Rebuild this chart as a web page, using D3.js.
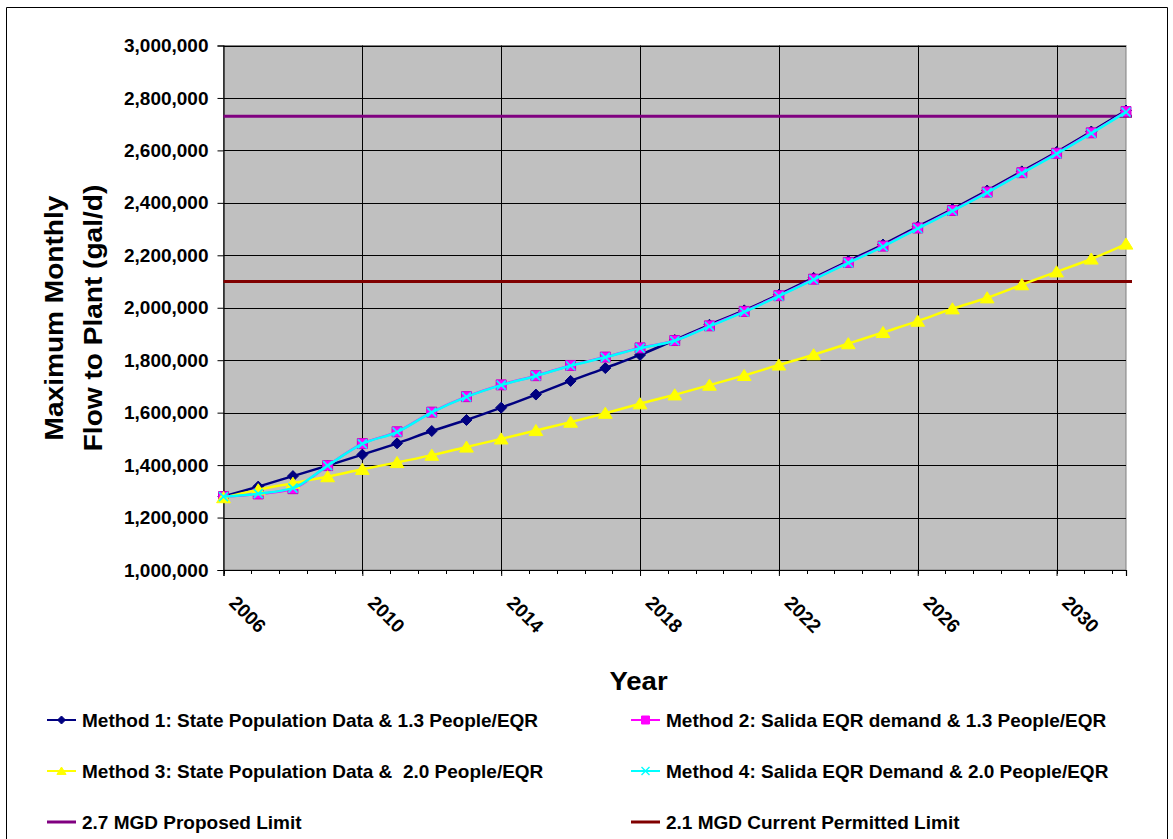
<!DOCTYPE html>
<html>
<head>
<meta charset="utf-8">
<script src="https://cdn.jsdelivr.net/npm/d3@7"></script>
<style>
  html, body { margin: 0; padding: 0; background: #ffffff; }
  svg { display: block; font-family: "Liberation Sans", Arial, sans-serif; font-weight: bold; }
  text { white-space: pre; }
</style>
</head>
<body>
<svg id="chart" width="1173" height="839"></svg>
<script>
// ---- data ----
const years = [2006,2007,2008,2009,2010,2011,2012,2013,2014,2015,2016,2017,2018,2019,2020,2021,2022,2023,2024,2025,2026,2027,2028,2029,2030,2031,2032];

const method1 = [1280000,1318000,1358000,1398000,1440000,1483000,1530000,1572000,1619000,1669000,1721000,1770000,1820000,1877000,1935000,1990000,2050000,2114000,2178000,2241000,2309000,2376000,2447000,2520000,2594000,2672000,2752000];
const method2 = [1280000,1290000,1310000,1398000,1482000,1527000,1602000,1661000,1706000,1741000,1780000,1812000,1847000,1875000,1931000,1986000,2046000,2109000,2173000,2235000,2304000,2371000,2441000,2515000,2589000,2667000,2748000];
const method3 = [1276000,1306000,1331000,1356000,1384000,1410000,1438000,1469000,1500000,1532000,1564000,1598000,1634000,1668000,1705000,1742000,1782000,1821000,1863000,1906000,1949000,1996000,2038000,2088000,2137000,2186000,2243000];
const method4 = [1280000,1291000,1312000,1398000,1481000,1526000,1601000,1660000,1705000,1740000,1779000,1811000,1846000,1874000,1929000,1984000,2044000,2107000,2171000,2233000,2302000,2369000,2439000,2513000,2587000,2665000,2746000];

const proposedLimit = 2730000;
const permittedLimit = 2100000;

const yTicks = [1000000,1200000,1400000,1600000,1800000,2000000,2200000,2400000,2600000,2800000,3000000];
const xTicks = [2006,2010,2014,2018,2022,2026,2030];

const seriesNames = [
  "Method 1: State Population Data & 1.3 People/EQR",
  "Method 2: Salida EQR demand & 1.3 People/EQR",
  "Method 3: State Population Data &  2.0 People/EQR",
  "Method 4: Salida EQR Demand & 2.0 People/EQR",
  "2.7 MGD Proposed Limit",
  "2.1 MGD Current Permitted Limit"
];

const yTitleLines = ["Maximum Monthly", "Flow to Plant (gal/d)"];
const xTitle = "Year";

// ---- layout ----
const svg = d3.select("#chart");
const plot = { left: 223.5, right: 1126, top: 45.5, bottom: 570 };

const x = d3.scaleLinear().domain([2006, 2032]).range([plot.left, plot.right]);
const y = d3.scaleLinear().domain([1000000, 3000000]).range([plot.bottom, plot.top]);

// outer chart border
svg.append("path")
  .attr("d", `M6.5,839 L6.5,7.5 L1167.5,7.5 L1167.5,839`)
  .attr("fill", "none").attr("stroke", "#000").attr("stroke-width", 1);

// plot background
svg.append("rect")
  .attr("x", plot.left).attr("y", plot.top)
  .attr("width", plot.right - plot.left).attr("height", plot.bottom - plot.top)
  .attr("fill", "#C0C0C0").attr("stroke", "#808080").attr("stroke-width", 1);

// gridlines
const grid = svg.append("g");
grid.selectAll("line.h").data(yTicks.filter(v => v > 1000000)).enter().append("line")
  .attr("x1", plot.left).attr("x2", plot.right)
  .attr("y1", d => Math.round(y(d)) + 0.5).attr("y2", d => Math.round(y(d)) + 0.5)
  .attr("stroke", "#000").attr("stroke-width", 1);
grid.selectAll("line.v").data(xTicks.filter(v => v > 2006)).enter().append("line")
  .attr("y1", plot.top).attr("y2", plot.bottom)
  .attr("x1", d => Math.round(x(d)) + 0.5).attr("x2", d => Math.round(x(d)) + 0.5)
  .attr("stroke", "#000").attr("stroke-width", 1);

// y axis
const yAxis = d3.axisLeft(y).tickValues(yTicks).tickSize(6).tickPadding(9)
  .tickFormat(d3.format(","));
const gy = svg.append("g").attr("transform", `translate(${plot.left},0)`).call(yAxis);
gy.select(".domain").attr("stroke", "#000").attr("stroke-width", 1.2);
gy.selectAll(".tick line").attr("stroke", "#000");
gy.selectAll(".tick text")
  .attr("font-family", '"Liberation Sans", Arial, sans-serif')
  .attr("font-weight", "bold").attr("font-size", "19px").attr("fill", "#000");

// x axis (minor ticks every 0.8 year)
const minorTicks = d3.range(0, 33).map(i => 2006 + i * 0.8).filter(v => v <= 2032.001);
svg.append("g").selectAll("line").data(minorTicks).enter().append("line")
  .attr("x1", d => Math.round(x(d)) + 0.5).attr("x2", d => Math.round(x(d)) + 0.5)
  .attr("y1", plot.bottom).attr("y2", plot.bottom + 4)
  .attr("stroke", "#000").attr("stroke-width", 1);
const xAxis = d3.axisBottom(x).tickValues(xTicks).tickSize(6).tickFormat(d3.format("d"));
const gx = svg.append("g").attr("transform", `translate(0,${plot.bottom})`).call(xAxis);
gx.select(".domain").attr("stroke", "#000").attr("stroke-width", 1.2);
gx.selectAll(".tick line").attr("stroke", "#000");
gx.selectAll(".tick text")
  .attr("font-family", '"Liberation Sans", Arial, sans-serif')
  .attr("font-weight", "bold").attr("font-size", "19px").attr("fill", "#000")
  .attr("text-anchor", "start").attr("dy", 0).attr("y", 0)
  .attr("transform", "translate(4,34) rotate(45)");

// limit lines
const limits = [
  { v: proposedLimit, color: "#800080" },
  { v: permittedLimit, color: "#800000" }
];
svg.append("g").selectAll("line").data(limits).enter().append("line")
  .attr("x1", x(2006)).attr("x2", x(2032) + 6)
  .attr("y1", d => y(d.v)).attr("y2", d => y(d.v))
  .attr("stroke", d => d.color).attr("stroke-width", 3);

// series
const series = [
  { values: method1, color: "#000080", width: 2.5, marker: "diamond", fill: "#000080" },
  { values: method2, color: "#FF00FF", width: 2.5, marker: "square", fill: "#FF00FF" },
  { values: method3, color: "#FFFF00", width: 2.5, marker: "triangle", fill: "#FFFF00" },
  { values: method4, color: "#00FFFF", width: 2.5, marker: "x", fill: "none" }
];

function markerPath(type, s) {
  if (type === "diamond") return `M0,${-s} L${s},0 L0,${s} L${-s},0 Z`;
  if (type === "square") return `M${-s},${-s} L${s},${-s} L${s},${s} L${-s},${s} Z`;
  if (type === "triangle") return `M0,${-s} L${s * 1.15},${s * 0.85} L${-s * 1.15},${s * 0.85} Z`;
  return `M${-s},${-s} L${s},${s} M${s},${-s} L${-s},${s}`;
}
const markerSize = { diamond: 5.5, square: 5, triangle: 6, x: 4.5 };

const line = d3.line().x(d => x(d[0])).y(d => y(d[1])).curve(d3.curveMonotoneX);

series.forEach(s => {
  const pts = years.map((yr, i) => [yr, s.values[i]]);
  const g = svg.append("g");
  g.append("path").attr("d", line(pts)).attr("fill", "none")
    .attr("stroke", s.color).attr("stroke-width", s.width);
  g.selectAll("path.m").data(pts).enter().append("path")
    .attr("transform", d => `translate(${x(d[0])},${y(d[1])})`)
    .attr("d", markerPath(s.marker, markerSize[s.marker]))
    .attr("fill", s.fill)
    .attr("stroke", s.marker === "x" ? s.color : (s.marker === "square" ? "#CC00CC" : s.color))
    .attr("stroke-width", s.marker === "x" ? 1.6 : 1);
});

// axis titles
const yt = svg.append("text")
  .attr("transform", "translate(0,318) rotate(-90) scale(1.08,1)")
  .attr("text-anchor", "middle").attr("font-size", "26px").attr("fill", "#000");
yt.selectAll("tspan").data(yTitleLines).enter().append("tspan")
  .attr("x", 0).attr("y", (d, i) => 63 + i * 38.7).text(d => d);

svg.append("text").attr("transform", "translate(638.5,690) scale(1.06,1)")
  .attr("text-anchor", "middle")
  .attr("font-size", "26px").attr("fill", "#000").text(xTitle);

// legend
const legendItems = [
  { name: seriesNames[0], color: "#000080", marker: "diamond", fill: "#000080", col: 0, row: 0 },
  { name: seriesNames[1], color: "#FF00FF", marker: "square", fill: "#FF00FF", col: 1, row: 0 },
  { name: seriesNames[2], color: "#FFFF00", marker: "triangle", fill: "#FFFF00", col: 0, row: 1 },
  { name: seriesNames[3], color: "#00FFFF", marker: "x", fill: "none", col: 1, row: 1 },
  { name: seriesNames[4], color: "#800080", marker: null, col: 0, row: 2 },
  { name: seriesNames[5], color: "#800000", marker: null, col: 1, row: 2 }
];
const colX = [47, 631];
const rowY = [720, 771, 822];
const lg = svg.append("g");
legendItems.forEach(it => {
  const gx0 = colX[it.col], gy0 = rowY[it.row];
  const g = lg.append("g").attr("transform", `translate(${gx0},${gy0})`);
  g.append("line").attr("x1", 0).attr("x2", 29).attr("y1", 0).attr("y2", 0)
    .attr("stroke", it.color).attr("stroke-width", it.marker ? 2 : 3);
  if (it.marker) {
    g.append("path").attr("transform", "translate(14.5,0)")
      .attr("d", markerPath(it.marker, 4))
      .attr("fill", it.fill).attr("stroke", it.color)
      .attr("stroke-width", it.marker === "x" ? 1.4 : 1);
  }
  g.append("text").attr("x", 35).attr("y", 7).attr("font-size", "19px")
    .attr("fill", "#000").text(it.name);
});
</script>
</body>
</html>
